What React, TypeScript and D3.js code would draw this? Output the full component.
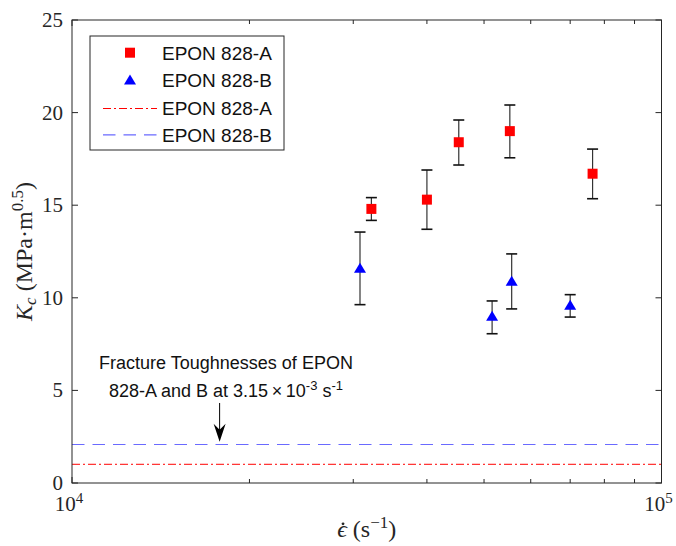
import React, { useEffect, useRef } from 'react';
import * as d3 from 'd3';

// EPON 828-A (dynamic)
const rateA = [3.22e4, 4.0e4, 4.53e4, 5.53e4, 7.64e4];
const kcA = [14.8, 15.3, 18.4, 19.0, 16.7];
const kcALow = [14.18, 13.7, 17.17, 17.56, 15.35];
const kcAHigh = [15.41, 16.9, 19.6, 20.41, 18.03];

// EPON 828-B (dynamic)
const rateB = [3.08e4, 5.16e4, 5.57e4, 7.0e4];
const kcB = [11.6, 9.0, 10.9, 9.6];
const kcBLow = [9.63, 8.06, 9.4, 8.96];
const kcBHigh = [13.55, 9.83, 12.37, 10.17];

// quasi-static values (3.15e-3 1/s)
const staticKcA = 1.01;
const staticKcB = 2.08;

const legendLabels = ['EPON 828-A', 'EPON 828-B', 'EPON 828-A', 'EPON 828-B'];
const yTickValues = [0, 5, 10, 15, 20, 25];
const xMajorTicks = [1e4, 1e5];
const xExponents = ['4', '5'];

const arrowRate = 1.78e4;
const arrowFrom = 4.32;
const arrowTo = 2.23;

const App = () => {
  const chartRef = useRef<SVGSVGElement>(null);

  useEffect(() => {
    const width = 676;
    const height = 546;
    const left = 72;
    const right = 661.5;
    const top = 20;
    const bottom = 483;
    const axisColor = '#262626';
    const serif = '"Liberation Serif", "Times New Roman", serif';
    const sans = '"Liberation Sans", Arial, sans-serif';
    const dashDot = '8,3,2,3';
    const dashed = '12.5,8';

    const x = d3.scaleLog().domain([1e4, 1e5]).range([left, right]);
    const y = d3.scaleLinear().domain([0, 25]).range([bottom, top]);

    const svg = d3.select(chartRef.current)
      .attr('width', width)
      .attr('height', height);
    svg.selectAll('*').remove();

    svg.append('rect').attr('width', width).attr('height', height).attr('fill', '#fff');

    // quasi-static reference lines
    svg.append('line')
      .attr('x1', left).attr('x2', right)
      .attr('y1', y(staticKcA)).attr('y2', y(staticKcA))
      .style('stroke', '#ff0000').style('stroke-width', 1)
      .style('stroke-dasharray', dashDot);
    svg.append('line')
      .attr('x1', left).attr('x2', right)
      .attr('y1', y(staticKcB)).attr('y2', y(staticKcB))
      .style('stroke', '#6a6aff').style('stroke-width', 1.2)
      .style('stroke-dasharray', dashed);

    // error bars
    const errorBars = (rates, lows, highs) => {
      const g = svg.append('g');
      rates.forEach((r, i) => {
        const cx = x(r);
        g.append('line')
          .attr('x1', cx).attr('x2', cx)
          .attr('y1', y(lows[i])).attr('y2', y(highs[i]))
          .attr('stroke', '#333').attr('stroke-width', 1.2);
        [lows[i], highs[i]].forEach(v => {
          g.append('line')
            .attr('x1', cx - 5.5).attr('x2', cx + 5.5)
            .attr('y1', y(v)).attr('y2', y(v))
            .attr('stroke', '#111').attr('stroke-width', 1.6);
        });
      });
    };
    errorBars(rateA, kcALow, kcAHigh);
    errorBars(rateB, kcBLow, kcBHigh);

    const square = d3.symbol().type(d3.symbolSquare).size(100);
    const triPath = 'M0,-5.5L6,4.5L-6,4.5Z';

    svg.append('g').selectAll('path')
      .data(rateA)
      .enter()
      .append('path')
      .attr('d', square)
      .attr('transform', (d, i) => `translate(${x(d)},${y(kcA[i])})`)
      .attr('fill', '#ff0000');

    svg.append('g').selectAll('path')
      .data(rateB)
      .enter()
      .append('path')
      .attr('d', triPath)
      .attr('transform', (d, i) => `translate(${x(d)},${y(kcB[i])})`)
      .attr('fill', '#0000ff');

    // axes box
    svg.append('rect')
      .attr('x', left).attr('y', top)
      .attr('width', right - left).attr('height', bottom - top)
      .attr('fill', 'none').attr('stroke', axisColor).attr('stroke-width', 1);

    const tickG = svg.append('g').attr('stroke', axisColor).attr('stroke-width', 1);
    yTickValues.forEach(v => {
      tickG.append('line').attr('x1', left).attr('x2', left + 6).attr('y1', y(v)).attr('y2', y(v));
      tickG.append('line').attr('x1', right).attr('x2', right - 6).attr('y1', y(v)).attr('y2', y(v));
    });
    x.ticks().forEach(v => {
      const len = xMajorTicks.includes(v) ? 6 : 4;
      tickG.append('line').attr('x1', x(v)).attr('x2', x(v)).attr('y1', bottom).attr('y2', bottom - len);
      tickG.append('line').attr('x1', x(v)).attr('x2', x(v)).attr('y1', top).attr('y2', top + len);
    });

    // y tick labels
    svg.append('g').selectAll('text')
      .data(yTickValues)
      .enter()
      .append('text')
      .attr('x', left - 9)
      .attr('y', d => y(d) + 7)
      .attr('text-anchor', 'end')
      .attr('font-family', serif)
      .attr('font-size', 21)
      .attr('fill', axisColor)
      .text(d => d);

    // x tick labels 10^n
    xMajorTicks.forEach((v, i) => {
      const t = svg.append('text')
        .attr('x', x(v) - 3)
        .attr('y', 511)
        .attr('text-anchor', 'middle')
        .attr('font-family', serif)
        .attr('font-size', 21)
        .attr('fill', axisColor);
      t.append('tspan').text('10');
      t.append('tspan').attr('dy', -8).attr('font-size', 15).text(xExponents[i]);
    });

    // x axis label: epsilon-dot (s^-1)
    const xl = svg.append('text')
      .attr('x', (left + right) / 2)
      .attr('y', 537)
      .attr('text-anchor', 'middle')
      .attr('font-family', serif)
      .attr('font-size', 24)
      .attr('fill', axisColor)
      .attr('xml:space', 'preserve');
    xl.append('tspan').attr('font-style', 'italic').text('\u03F5');
    xl.append('tspan').text('\u00A0(s');
    xl.append('tspan').attr('dy', -9).attr('font-size', 17).text('\u22121');
    xl.append('tspan').attr('dy', 9).text(')');
    const xlNode = xl.node() as SVGTextElement;
    if (xlNode && xlNode.getExtentOfChar) {
      const box = xlNode.getExtentOfChar(0);
      svg.append('circle')
        .attr('cx', box.x + box.width / 2 + 1)
        .attr('cy', box.y + box.height * 0.3)
        .attr('r', 1.4)
        .attr('fill', axisColor);
    }

    // y axis label
    const yl = svg.append('text')
      .attr('transform', `translate(32,${(top + bottom) / 2}) rotate(-90)`)
      .attr('text-anchor', 'middle')
      .attr('font-family', serif)
      .attr('font-size', 24)
      .attr('fill', axisColor);
    yl.append('tspan').attr('font-style', 'italic').text('K');
    yl.append('tspan').attr('font-style', 'italic').attr('dy', 4).attr('font-size', 17).text('c');
    yl.append('tspan').attr('dy', -4).text('\u00A0(MPa\u00B7m');
    yl.append('tspan').attr('dy', -9).attr('font-size', 17).text('0.5');
    yl.append('tspan').attr('dy', 9).text(')');

    // annotation
    const ann = svg.append('g')
      .attr('font-family', sans)
      .attr('font-size', 18)
      .attr('fill', '#111')
      .attr('text-anchor', 'middle');
    ann.append('text').attr('x', 226).attr('y', 369).text('Fracture Toughnesses of EPON');
    const l2 = ann.append('text').attr('x', 226).attr('y', 396.5);
    l2.append('tspan').text('828-A and B at 3.15\u2009\u00D7\u200910');
    l2.append('tspan').attr('dy', -7).attr('font-size', 13).text('-3');
    l2.append('tspan').attr('dy', 7).text(' s');
    l2.append('tspan').attr('dy', -7).attr('font-size', 13).text('-1');

    const ax = x(arrowRate);
    svg.append('line')
      .attr('x1', ax).attr('x2', ax)
      .attr('y1', y(arrowFrom)).attr('y2', y(arrowTo) - 10)
      .attr('stroke', '#000').attr('stroke-width', 1);
    svg.append('path')
      .attr('d', 'M0,0L-6,-18L0,-12L6,-18Z')
      .attr('transform', `translate(${ax},${y(arrowTo)})`)
      .attr('fill', '#000');

    // legend
    const lg = svg.append('g');
    lg.append('rect')
      .attr('x', 90).attr('y', 36).attr('width', 194).attr('height', 114)
      .attr('fill', '#fff').attr('stroke', axisColor).attr('stroke-width', 1);
    const rowY = d => 52.7 + d * 27.4;
    lg.append('path').attr('d', square).attr('transform', `translate(130,${rowY(0)})`).attr('fill', '#ff0000');
    lg.append('path').attr('d', triPath).attr('transform', `translate(130,${rowY(1)})`).attr('fill', '#0000ff');
    lg.append('line').attr('x1', 103).attr('x2', 157).attr('y1', Math.round(rowY(2)) + 0.5).attr('y2', Math.round(rowY(2)) + 0.5)
      .style('stroke', '#ff0000').style('stroke-width', 1).style('stroke-dasharray', dashDot);
    lg.append('line').attr('x1', 103).attr('x2', 157).attr('y1', rowY(3)).attr('y2', rowY(3))
      .style('stroke', '#6a6aff').style('stroke-width', 1.2).style('stroke-dasharray', dashed);
    lg.selectAll('text.lab')
      .data(legendLabels)
      .enter()
      .append('text')
      .attr('class', 'lab')
      .attr('x', 162)
      .attr('y', (d, i) => rowY(i) + 7)
      .attr('font-family', sans)
      .attr('font-size', 19)
      .attr('fill', '#111')
      .text(d => d);

    return () => {
      d3.select(chartRef.current).selectAll('*').remove();
    };
  }, []);

  return (
    <svg ref={chartRef} style={{ position: 'absolute', left: 0, top: 0, display: 'block' }}></svg>
  );
};

export default App;
